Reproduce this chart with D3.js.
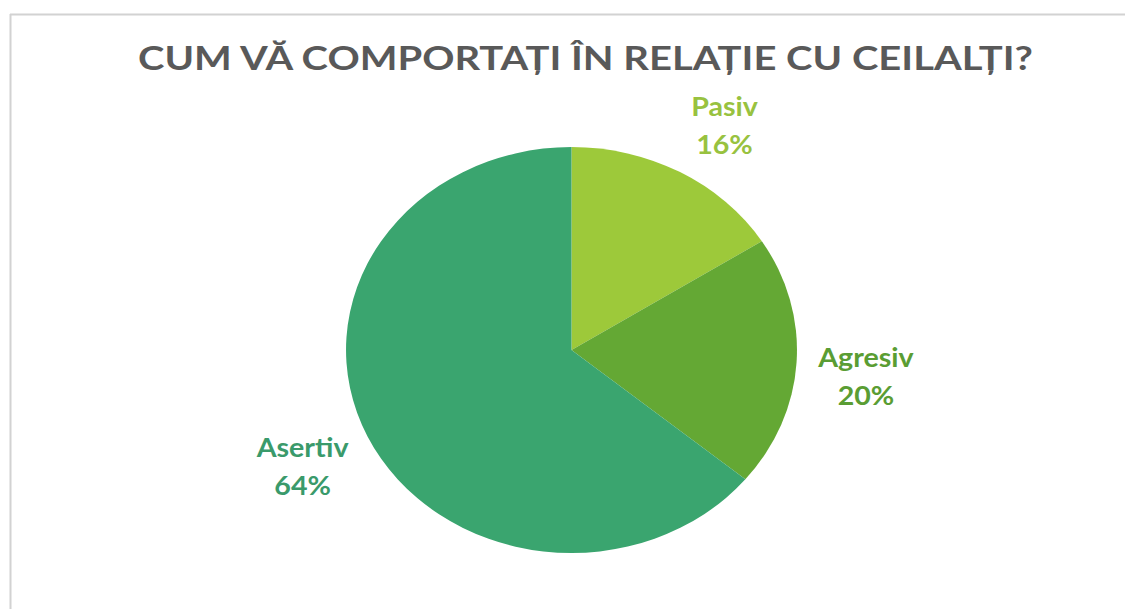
<!DOCTYPE html>
<html>
<head>
<meta charset="utf-8">
<script src="https://cdn.jsdelivr.net/npm/d3@7"></script>
<style>
  html, body { margin: 0; padding: 0; background: #ffffff; }
  svg { display: block; }
</style>
</head>
<body>
<svg id="chart" width="1125" height="609"></svg>
<script>
const title = "CUM VĂ COMPORTAȚI ÎN RELAȚIE CU CEILALȚI?";
const categories = ["Pasiv", "Agresiv", "Asertiv"];
const values = [16, 20, 64];
const colors = ["#9dc93a", "#64a834", "#3aa56f"];
const labelColors = ["#98c23f", "#5a9d33", "#3a9a6b"];

const W = 1125, H = 609;
const svg = d3.select("#chart");

// frame lines
svg.append("line").attr("x1", 10).attr("x2", W).attr("y1", 14.5).attr("y2", 14.5)
  .attr("stroke", "#d2d2d2").attr("stroke-width", 2);
svg.append("line").attr("x1", 10.5).attr("x2", 10.5).attr("y1", 14).attr("y2", H)
  .attr("stroke", "#d2d2d2").attr("stroke-width", 2);

// title
svg.append("text")
  .attr("x", 138).attr("y", 70)
  .attr("textLength", 895).attr("lengthAdjust", "spacingAndGlyphs")
  .attr("font-family", "Lato, 'Open Sans', sans-serif")
  .attr("font-weight", 700).attr("font-size", 32)
  .attr("fill", "#595959")
  .text(title);

// pie (picture is stretched horizontally, so draw in unit circle then scale)
const cx = 571.5, cy = 350, rx = 225.5, ry = 203;
const pie = d3.pie().sort(null).value(d => d);
const arcs = pie(values);
const arc = d3.arc().innerRadius(0).outerRadius(1);

const g = svg.append("g").attr("transform", `translate(${cx},${cy}) scale(${rx},${ry})`);
g.selectAll("path").data(arcs).join("path")
  .attr("d", arc)
  .attr("fill", (d, i) => colors[i]);

// labels (outside end)
const lf = 1.215, offX = 21, offY = 10;
arcs.forEach((a, i) => {
  const m = (a.startAngle + a.endAngle) / 2;
  const s = Math.sin(m), c = Math.cos(m);
  const x = cx + rx * lf * s + Math.sign(s) * offX;
  const y = cy - ry * lf * c - Math.sign(c) * offY;
  const t = svg.append("g").attr("transform", `translate(${x},${y}) scale(1.1,1)`);
  const txt = t.append("text")
    .attr("text-anchor", "middle")
    .attr("font-family", "Lato, 'Open Sans', sans-serif")
    .attr("font-weight", 700).attr("font-size", 26)
    .attr("fill", labelColors[i]);
  txt.append("tspan").attr("x", 0).attr("y", -8).text(categories[i]);
  txt.append("tspan").attr("x", 0).attr("y", 30).text(d3.format(".0%")(a.value / d3.sum(values)));
});
</script>
</body>
</html>
